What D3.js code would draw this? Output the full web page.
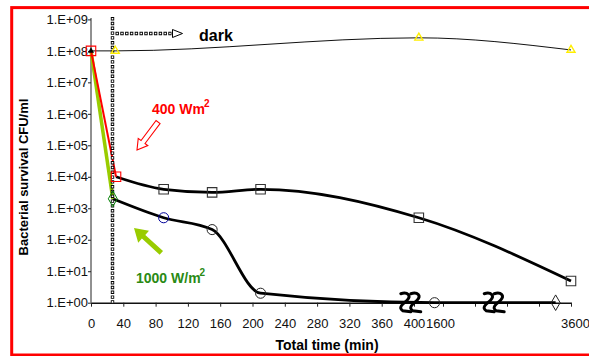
<!DOCTYPE html>
<html>
<head>
<meta charset="utf-8">
<script src="https://cdn.jsdelivr.net/npm/d3@7"></script>
<style>
  body { margin: 0; background: #fff; }
  text { font-family: "Liberation Sans", Arial, sans-serif; }
</style>
</head>
<body>
<div id="chart"></div>
<script>
const layout = {
    width: 589,
    height: 356,
    left: 91,
    right: 571,
    top: 19.4,
    bottom: 302.7,
    xBreakPx: [91, 414, 443, 571]
};

// x axis is broken after 400 min
const xBreaks = [0, 400, 1600, 3600];
const xTicks = [0, 40, 80, 120, 160, 200, 240, 280, 320, 360, 400, 1600, 2100, 2600, 3100, 3600];
const xLabels = [0, 40, 80, 120, 160, 200, 240, 280, 320, 360, 400, 1600, 3600];
const yTicks = [1, 1e1, 1e2, 1e3, 1e4, 1e5, 1e6, 1e7, 1e8, 1e9];

// series
const darkTime = [0, 30, 600, 3600];
const darkCfu = [1e8, 1e8, 2.6e8, 1.07e8];
const time400 = [0, 31, 90, 150, 210, 600, 3600];
const cfu400 = [1e8, 1e4, 4.0e3, 3.2e3, 4.0e3, 5.0e2, 4.9];
const time1000 = [0, 27, 90, 150, 210, 1250, 3360];
const cfu1000 = [1e8, 2.0e3, 5.0e2, 2.1e2, 2.0, 1, 1];
const lampOffTime = 26;
const squiggleTimes = [396, 2400];

// marker colours (by point index)
const colors400 = ["red", "red", "#333", "#333", "#333", "#333", "#333"];
const colors1000 = [null, "#008000", "#000099", "#222", "#222", "#222", "#222"];

function zipSeries(ts, vs) {
    return ts.map((t, i) => ({ t: t, v: vs[i], i: i }));
}
const dark = zipSeries(darkTime, darkCfu);
const s400 = zipSeries(time400, cfu400);
const s1000 = zipSeries(time1000, cfu1000);

let svg = d3.select("#chart").append("svg")
    .attr("width", layout.width)
    .attr("height", layout.height)
    .attr("viewBox", [0, 0, layout.width, layout.height].join(" "));

// red frame round the chart
svg.append("rect")
    .attr("x", 11.7).attr("y", 7.6)
    .attr("width", 620).attr("height", 347.4)
    .attr("fill", "none")
    .attr("stroke", "#ff0000")
    .attr("stroke-width", 3);

// SCALES
let xScale = d3.scaleLinear().domain(xBreaks).range(layout.xBreakPx);
let yScale = d3.scaleLog().domain([1, 1e9]).range([layout.bottom, layout.top]);

let yAxis = svg.append("g")
    .attr("transform", `translate(${layout.left},0)`)
    .call(d3.axisLeft(yScale)
        .tickValues(yTicks)
        .tickFormat(d => "1.E+" + String(Math.round(Math.log10(d))).padStart(2, "0"))
        .tickSize(3).tickSizeOuter(0).tickPadding(0));
yAxis.select(".domain").attr("d", `M0,18V${layout.bottom}`);
yAxis.selectAll("text").attr("font-size", 13).attr("fill", "#111");
yAxis.selectAll("line, .domain").attr("stroke", "#222");

let xAxis = svg.append("g")
    .attr("transform", `translate(0,${layout.bottom})`)
    .call(d3.axisBottom(xScale)
        .tickValues(xTicks)
        .tickFormat(d => xLabels.includes(d) ? d : "")
        .tickSize(4).tickSizeOuter(0).tickPadding(12));
xAxis.selectAll("text").attr("font-size", 13).attr("fill", "#111");
xAxis.selectAll("line").attr("stroke", "#222");
xAxis.select(".domain").attr("stroke", "#111").attr("stroke-width", 1.5);
xAxis.selectAll(".tick text").filter(d => d === 1600).attr("dx", -3);
xAxis.selectAll(".tick text").filter(d => d === 3600).attr("dx", 4);

// axis titles
svg.append("text")
    .attr("x", 327).attr("y", 350)
    .attr("text-anchor", "middle")
    .attr("font-size", 14).attr("font-weight", "bold")
    .text("Total time (min)");
svg.append("text")
    .attr("transform", "translate(28,177) rotate(-90)")
    .attr("text-anchor", "middle")
    .attr("font-size", 13).attr("font-weight", "bold")
    .text("Bacterial survival CFU/ml");

// LINES
const smooth = d3.line().x(d => xScale(d.t)).y(d => yScale(d.v)).curve(d3.curveMonotoneX);
const straight = d3.line().x(d => xScale(d.t)).y(d => yScale(d.v));

svg.append("path")
    .datum(dark)
    .attr("fill", "none").attr("stroke", "#111").attr("stroke-width", 1)
    .attr("d", smooth);
svg.append("path")
    .datum(s400.slice(1))
    .attr("fill", "none").attr("stroke", "#000").attr("stroke-width", 2.8)
    .attr("d", smooth);
svg.append("path")
    .datum(s1000.slice(1))
    .attr("fill", "none").attr("stroke", "#000").attr("stroke-width", 2.8)
    .attr("d", smooth);
svg.append("path")
    .datum(s1000.slice(0, 2))
    .attr("fill", "none").attr("stroke", "#99cc00").attr("stroke-width", 3.5)
    .attr("d", straight);
svg.append("path")
    .datum(s400.slice(0, 2))
    .attr("fill", "none").attr("stroke", "red").attr("stroke-width", 2)
    .attr("d", straight);

// dotted line of small hollow squares: black dashes with white centres
function squareDots(x1, y1, x2, y2) {
    let g = svg.append("g");
    g.append("line")
        .attr("x1", x1).attr("y1", y1).attr("x2", x2).attr("y2", y2)
        .attr("stroke", "#000").attr("stroke-width", 3.4)
        .attr("stroke-dasharray", "3.4 1.4");
    g.append("line")
        .attr("x1", x1).attr("y1", y1).attr("x2", x2).attr("y2", y2)
        .attr("stroke", "#fff").attr("stroke-width", 1.6)
        .attr("stroke-dasharray", "1.6 3.2")
        .attr("stroke-dashoffset", -0.9);
}

// lamp switched off
let offX = Math.round(xScale(lampOffTime)) + 0.5;
squareDots(offX, 17, offX, layout.bottom);

// dotted arrow towards "dark"
let arrowY = 33.5;
squareDots(offX + 3, arrowY, offX + 59, arrowY);
svg.append("path")
    .attr("d", `M${offX + 60},${arrowY - 4}L${offX + 70},${arrowY}L${offX + 60},${arrowY + 4}Z`)
    .attr("fill", "white").attr("stroke", "black").attr("stroke-width", 1);

// break marks on x axis
const squigglePath = "M-5,-9C2,-11 6,-7 1,-2C-3,1 -8,5 -3,8L5,9";
squiggleTimes.forEach(t => {
    [-5, 5].forEach(dx => {
        svg.append("path")
            .attr("transform", `translate(${xScale(t) + dx},${layout.bottom})`)
            .attr("d", squigglePath)
            .attr("fill", "none").attr("stroke", "#000")
            .attr("stroke-width", 3).attr("stroke-linecap", "round");
    });
});

// MARKERS
function drawMarkers(data, shape, size, colorOf, width) {
    svg.append("g").selectAll("path")
        .data(data.filter(d => colorOf(d)))
        .join("path")
        .attr("transform", d => `translate(${xScale(d.t)},${yScale(d.v)})`)
        .attr("d", d3.symbol().type(shape).size(size))
        .attr("fill", "none")
        .attr("stroke", colorOf)
        .attr("stroke-width", width);
}
drawMarkers(s1000, d3.symbolDiamond, 70, d => d.i === 1 || d.i === 6 ? colors1000[d.i] : null, 1);
drawMarkers(s1000, d3.symbolCircle, 80, d => d.i >= 2 && d.i <= 5 ? colors1000[d.i] : null, 1);
drawMarkers(s400, d3.symbolSquare, 90, d => colors400[d.i], 1.1);
drawMarkers(dark.slice(1), d3.symbolTriangle, 28, d => "#ffee00", 1.4);
svg.append("path")
    .attr("transform", `translate(${xScale(dark[0].t)},${yScale(dark[0].v)})`)
    .attr("d", d3.symbol().type(d3.symbolTriangle).size(16))
    .attr("fill", "#000");

// ANNOTATIONS
// 400 W/m2, hollow red arrow
svg.append("text")
    .attr("x", 152).attr("y", 114)
    .attr("font-size", 14).attr("font-weight", "bold").attr("fill", "red")
    .text("400 Wm")
    .append("tspan").attr("dx", -1).attr("dy", -7).attr("font-size", 10).text("2");
svg.append("path")
    .attr("transform", "translate(137,150) rotate(127)")
    .attr("d", "M0,0L-10,-6L-10,-2.5L-35,-2.5L-35,2.5L-10,2.5L-10,6Z")
    .attr("fill", "white").attr("stroke", "red").attr("stroke-width", 1.1);

// 1000 W/m2, solid green arrow
svg.append("text")
    .attr("x", 136).attr("y", 283)
    .attr("font-size", 14).attr("font-weight", "bold").attr("fill", "#2a8a14")
    .text("1000 W/m")
    .append("tspan").attr("dx", -1).attr("dy", -7).attr("font-size", 10).text("2");
svg.append("path")
    .attr("transform", "translate(134,228) rotate(-137.6)")
    .attr("d", "M0,0L-13,-8L-13,-2.5L-37,-2.5L-37,2.5L-13,2.5L-13,8Z")
    .attr("fill", "#99cc00");

svg.append("text")
    .attr("x", 199).attr("y", 41)
    .attr("font-size", 16).attr("font-weight", "bold")
    .text("dark");
</script>
</body>
</html>
